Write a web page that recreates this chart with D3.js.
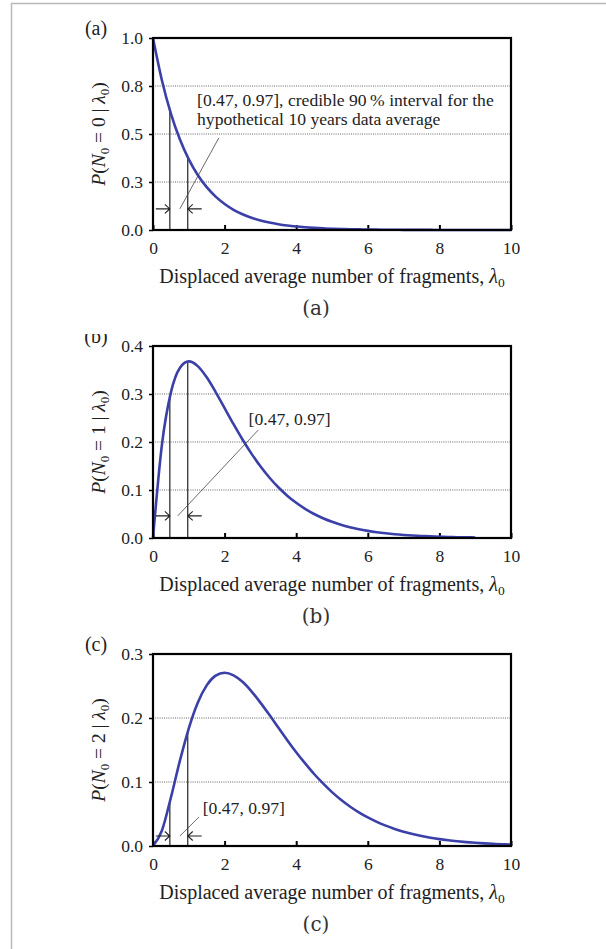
<!DOCTYPE html>
<html><head><meta charset="utf-8">
<script src="https://cdn.jsdelivr.net/npm/d3@7"></script>
<style>body{margin:0;background:#fff}</style>
</head><body><svg id="c" width="606" height="949"></svg>
<script>
// λ0 sample points and probabilities
const lambda = [0,0.25,0.5,0.75,1,1.25,1.5,1.75,2,2.25,2.5,2.75,3,3.25,3.5,3.75,4,4.25,4.5,4.75,5,5.25,5.5,5.75,6,6.25,6.5,6.75,7,7.25,7.5,7.75,8,8.25,8.5,8.75,9,9.25,9.5,9.75,10];
const probN0 = [1,0.7788,0.6065,0.4724,0.3679,0.2865,0.2231,0.1738,0.1353,0.1054,0.0821,0.0639,0.0498,0.0388,0.0302,0.0235,0.0183,0.0143,0.0111,0.0087,0.0067,0.0052,0.0041,0.0032,0.0025,0.0019,0.0015,0.0012,0.0009,0.0007,0.0006,0.0004,0.0003,0.0003,0.0002,0.0002,0.0001,0.0001,0.0001,0.0001,0];
const probN1 = [0,0.1947,0.3033,0.3543,0.3679,0.3581,0.3347,0.3041,0.2707,0.2371,0.2052,0.1758,0.1494,0.1261,0.1057,0.0882,0.0733,0.0607,0.0500,0.0412,0.0337,0.0275,0.0225,0.0183,0.0149,0.0121,0.0098,0.0079,0.0064,0.0052,0.0042,0.0033,0.0027,0.0022,0.0017,0.0014,0.0011,0.0009,0.0007,0.0006,0.0005];
const probN2 = [0,0.0243,0.0758,0.1329,0.1839,0.2238,0.2510,0.2661,0.2707,0.2667,0.2565,0.2417,0.2240,0.2049,0.1850,0.1653,0.1465,0.1290,0.1125,0.0978,0.0842,0.0722,0.0618,0.0526,0.0446,0.0378,0.0318,0.0267,0.0223,0.0187,0.0156,0.0130,0.0107,0.0089,0.0074,0.0061,0.0050,0.0041,0.0034,0.0028,0.0023];
const interval = [0.47, 0.97];
const intervalTopsA = [0.625, 0.379];
const intervalTopsB = [0.294, 0.368];
const intervalTopsC = [0.069, 0.178];
const xTicks = [0,2,4,6,8,10];
const yTicksA = [0,0.25,0.5,0.75,1.0];
const yTickLabelsA = ["0.0","0.3","0.5","0.8","1.0"];
const yTicksB = [0,0.1,0.2,0.3,0.4];
const yTickLabelsB = ["0.0","0.1","0.2","0.3","0.4"];
const yTicksC = [0,0.1,0.2,0.3];
const yTickLabelsC = ["0.0","0.1","0.2","0.3"];
const xLabel = "Displaced average number of fragments, ";
const noteA = ["[0.47, 0.97], credible 90\u2009% interval for the", "hypothetical 10 years data average"];
const noteBC = ["[0.47, 0.97]"];

const panels = [
  {tag:"(a)", k:"0", values:probN0, tops:intervalTopsA, yMax:1.0, yTicks:yTicksA, yLabels:yTickLabelsA, lamEnd:10, top:38,
   arrowP:0.11, leader:[[0.75,0.11],[1.84,0.48]], note:noteA, noteAt:[1.23,0.645], noteDy:19, clipTag:false},
  {tag:"(b)", k:"1", values:probN1, tops:intervalTopsB, yMax:0.4, yTicks:yTicksB, yLabels:yTickLabelsB, lamEnd:9, top:346,
   arrowP:0.046, leader:[[0.69,0.046],[2.94,0.225]], note:noteBC, noteAt:[2.67,0.235], noteDy:0, clipTag:true},
  {tag:"(c)", k:"2", values:probN2, tops:intervalTopsC, yMax:0.3, yTicks:yTicksC, yLabels:yTickLabelsC, lamEnd:10, top:654,
   arrowP:0.0156, leader:[[0.75,0.0156],[1.28,0.045]], note:noteBC, noteAt:[1.39,0.05], noteDy:0, clipTag:false}
];

const svg = d3.select("#c");
const serif = "'Liberation Serif','Times New Roman',serif";
const left = 153, right = 511, H = 192;
const blue = "#3b40a8";

// outer frame of the figure
svg.append("path").attr("d","M11.5,949 V3.5 H606").attr("fill","none").attr("stroke","#b9b9b9").attr("stroke-width",1.5);

const defs = svg.append("defs");
defs.append("clipPath").attr("id","tagclip").append("rect").attr("x",0).attr("y",334).attr("width",150).attr("height",40);

panels.forEach((p,i) => {
  const x = d3.scaleLinear().domain([0,10]).range([left,right]);
  const y = d3.scaleLinear().domain([0,p.yMax]).range([p.top+H,p.top]);
  const g = svg.append("g");

  // dotted gridlines
  g.selectAll(".grid").data(p.yTicks.filter(v => v>0 && v<p.yMax)).join("line")
    .attr("x1",left).attr("x2",right).attr("y1",d=>y(d)).attr("y2",d=>y(d))
    .attr("stroke","#666").attr("stroke-width",1).attr("stroke-dasharray","1,1.2");

  // y axis (outer ticks)
  const ya = d3.axisLeft(y).tickValues(p.yTicks).tickFormat((d,j)=>p.yLabels[j]).tickSize(4).tickPadding(6);
  const yg = g.append("g").attr("transform",`translate(${left},0)`).call(ya);
  yg.select(".domain").remove();
  yg.selectAll("line").attr("stroke","#000").attr("stroke-width",1.5);
  yg.selectAll("text").attr("font-family",serif).attr("font-size",17.5).attr("fill","#222");

  // x axis (inner ticks)
  const xa = d3.axisBottom(x).tickValues(xTicks).tickSize(-5).tickPadding(12);
  const xg = g.append("g").attr("transform",`translate(0,${p.top+H})`).call(xa);
  xg.select(".domain").remove();
  xg.selectAll("line").attr("stroke","#000").attr("stroke-width",2);
  xg.selectAll("text").attr("font-family",serif).attr("font-size",17.5).attr("fill","#222");

  // interval verticals
  g.selectAll(".iv").data(interval).join("line")
    .attr("x1",d=>x(d)).attr("x2",d=>x(d)).attr("y1",y(0)).attr("y2",(d,j)=>y(p.tops[j]))
    .attr("stroke","#333").attr("stroke-width",1.3);

  // curve
  const pts = lambda.map((l,j)=>[l,p.values[j]]).filter(d=>d[0]<=p.lamEnd);
  g.append("path").datum(pts)
    .attr("d", d3.line().x(d=>x(d[0])).y(d=>y(d[1])).curve(d3.curveMonotoneX))
    .attr("fill","none").attr("stroke",blue).attr("stroke-width",2.6);

  // arrows
  const ay = y(p.arrowP);
  const xl = x(interval[0]), xr = x(interval[1]);
  g.append("path").attr("d",`M${xl-14},${ay} H${xl} M${xl-5},${ay-4.5} L${xl},${ay} L${xl-5},${ay+4.5}`)
    .attr("fill","none").attr("stroke","#222").attr("stroke-width",1.1);
  g.append("path").attr("d",`M${xr+14},${ay} H${xr} M${xr+5},${ay-4.5} L${xr},${ay} L${xr+5},${ay+4.5}`)
    .attr("fill","none").attr("stroke","#222").attr("stroke-width",1.1);

  // leader line
  g.append("line").attr("x1",x(p.leader[0][0])).attr("y1",y(p.leader[0][1]))
    .attr("x2",x(p.leader[1][0])).attr("y2",y(p.leader[1][1])).attr("stroke","#444").attr("stroke-width",0.8);

  // note text
  p.note.forEach((t,j)=>{
    g.append("text").attr("x",x(p.noteAt[0])).attr("y",y(p.noteAt[1])+j*p.noteDy)
      .attr("font-family",serif).attr("font-size",17.6).attr("fill","#222").text(t);
  });

  // frame
  g.append("rect").attr("x",left).attr("y",p.top).attr("width",right-left).attr("height",H)
    .attr("fill","none").attr("stroke","#000").attr("stroke-width",2.2);

  // y label
  const yl = g.append("text").attr("transform",`translate(98,${p.top+H/2}) rotate(-90)`)
    .attr("text-anchor","middle").attr("font-family",serif).attr("font-size",19.5).attr("fill","#222").attr("dy","0.35em");
  yl.append("tspan").attr("font-style","italic").text("P");
  yl.append("tspan").text("(");
  yl.append("tspan").attr("font-style","italic").text("N");
  yl.append("tspan").attr("font-size",13).attr("dy",4).text("0");
  yl.append("tspan").attr("dy",-4).text(` = ${p.k} | `);
  yl.append("tspan").attr("font-style","italic").text("\u03bb");
  yl.append("tspan").attr("font-size",13).attr("dy",4).text("0");
  yl.append("tspan").attr("dy",-4).text(")");

  // x label
  const xlb = g.append("text").attr("x",(left+right)/2).attr("y",p.top+H+53).attr("text-anchor","middle")
    .attr("font-family",serif).attr("font-size",20).attr("fill","#222");
  xlb.append("tspan").text(xLabel);
  xlb.append("tspan").attr("font-style","italic").text("\u03bb");
  xlb.append("tspan").attr("font-size",13.5).attr("dy",4).text("0");

  // corner tag
  const tg = g.append("text").attr("x",96).attr("y",p.top-3).attr("text-anchor","middle")
    .attr("font-family",serif).attr("font-size",20).attr("fill","#222").text(p.tag);
  if (p.clipTag) tg.attr("clip-path","url(#tagclip)");

  // sub caption
  g.append("text").attr("x",316).attr("y",p.top+H+85).attr("text-anchor","middle")
    .attr("font-family","'DejaVu Serif',serif").attr("font-size",20).attr("fill","#333").text(p.tag);
});
</script></body></html>
